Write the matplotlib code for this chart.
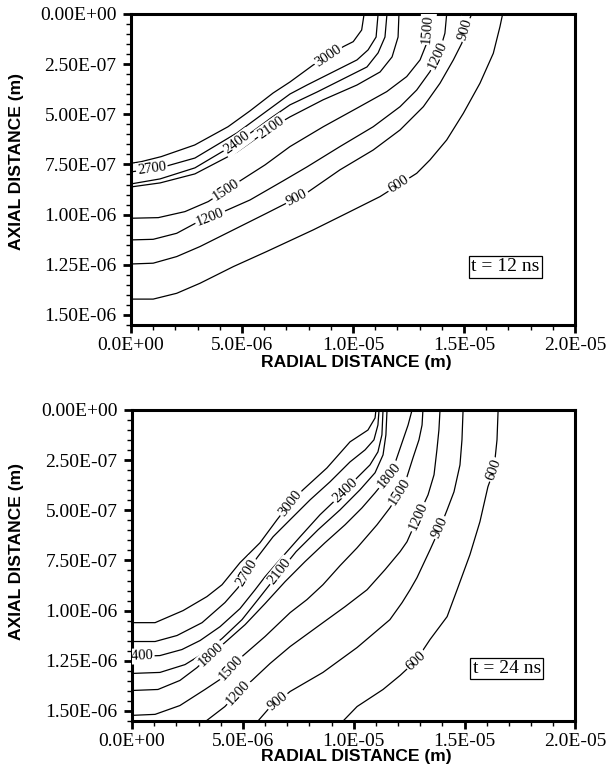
import numpy as np
import matplotlib
matplotlib.use('Agg')
import matplotlib.pyplot as plt
from matplotlib.ticker import FixedLocator, MultipleLocator

# isotherms, points are (radial um, axial um)
# ---- t = 12 ns ----
t12_3000 = [(0, 0.744), (0.46, 0.736), (1.36, 0.711), (2.87, 0.653), (4.37, 0.562), (5.36, 0.483),
            (6.40, 0.394), (7.16, 0.339), (8.21, 0.254), (8.87, 0.214), (9.56, 0.163), (10.01, 0.138),
            (10.39, 0.080), (10.50, 0.0)]
t12_2700 = [(0, 0.787), (1.31, 0.767), (2.88, 0.718), (4.77, 0.593), (6.31, 0.468), (7.16, 0.399),
            (7.93, 0.354), (9.10, 0.289), (10.18, 0.229), (10.68, 0.179), (11.04, 0.115), (11.13, 0.0)]
t12_2400 = [(0, 0.847), (1.31, 0.822), (2.88, 0.767), (4.77, 0.643), (6.31, 0.518), (7.16, 0.453),
            (8.38, 0.389), (9.73, 0.314), (10.63, 0.264), (11.13, 0.194), (11.44, 0.115), (11.53, 0.0)]
t12_2100 = [(0, 0.862), (1.31, 0.842), (2.88, 0.797), (4.77, 0.688), (6.31, 0.568), (7.16, 0.513),
            (8.65, 0.428), (10.18, 0.354), (11.22, 0.289), (11.76, 0.214), (12.03, 0.115), (12.07, 0.0)]
t12_1500 = [(0, 1.018), (1.23, 1.015), (2.43, 0.985), (3.48, 0.935), (4.28, 0.877), (4.91, 0.832),
            (6.04, 0.752), (7.16, 0.661), (8.66, 0.562), (10.17, 0.470), (11.52, 0.387), (12.42, 0.312),
            (13.02, 0.229), (13.32, 0.146), (13.42, 0.0)]
t12_1200 = [(0, 1.126), (1.00, 1.123), (2.06, 1.093), (3.02, 1.036), (4.01, 0.993), (5.36, 0.927),
            (6.85, 0.832), (7.93, 0.762), (9.41, 0.661), (10.91, 0.562), (12.12, 0.462), (12.87, 0.379),
            (13.47, 0.287), (13.92, 0.179), (14.14, 0.096), (14.22, 0.0)]
t12_900 = [(0, 1.246), (1.00, 1.242), (2.06, 1.209), (3.11, 1.159), (4.61, 1.076), (6.11, 0.993),
           (7.91, 0.892), (9.41, 0.777), (10.91, 0.678), (12.12, 0.578), (13.17, 0.462), (13.92, 0.345),
           (14.52, 0.229), (14.90, 0.146), (15.14, 0.055), (15.35, 0.0)]
t12_600 = [(0, 1.421), (1.00, 1.421), (2.06, 1.392), (3.11, 1.342), (4.61, 1.259), (6.11, 1.184),
           (8.21, 1.076), (9.72, 0.993), (11.22, 0.910), (12.87, 0.794), (13.47, 0.727), (14.22, 0.628),
           (14.97, 0.495), (15.72, 0.345), (16.32, 0.196), (16.62, 0.063), (16.74, 0.0)]

# ---- t = 24 ns ----
t24_3000 = [(0, 1.060), (1.04, 1.060), (2.30, 1.000), (3.38, 0.930), (4.06, 0.871), (4.87, 0.761),
            (5.77, 0.662), (6.54, 0.547), (7.13, 0.463), (7.71, 0.398), (8.79, 0.289), (9.83, 0.159),
            (10.64, 0.100), (10.96, 0.040), (11.00, 0.0)]
t24_2700 = [(0, 1.154), (1.04, 1.154), (2.03, 1.124), (3.16, 1.060), (4.19, 0.960), (4.78, 0.886),
            (5.19, 0.811), (5.64, 0.736), (6.36, 0.632), (7.13, 0.547), (8.03, 0.448), (8.93, 0.358),
            (9.83, 0.259), (10.51, 0.199), (10.91, 0.149), (11.09, 0.075), (11.14, 0.0)]
t24_2400 = [(0, 1.229), (1.26, 1.224), (2.25, 1.194), (3.07, 1.149), (3.97, 1.080), (4.87, 0.990),
            (5.55, 0.896), (6.00, 0.831), (6.67, 0.746), (7.58, 0.632), (8.48, 0.522), (9.61, 0.403),
            (10.15, 0.338), (10.73, 0.274), (11.09, 0.209), (11.27, 0.124), (11.32, 0.0)]
t24_2100 = [(0, 1.313), (1.26, 1.308), (2.39, 1.269), (3.20, 1.214), (4.06, 1.139), (4.96, 1.045),
            (5.68, 0.945), (6.67, 0.806), (7.40, 0.706), (8.39, 0.597), (9.38, 0.498), (10.28, 0.398),
            (10.96, 0.313), (11.32, 0.224), (11.45, 0.124), (11.50, 0.0)]
t24_1800 = [(0, 1.398), (1.17, 1.393), (2.16, 1.348), (2.93, 1.284), (3.56, 1.219), (4.19, 1.159),
            (5.10, 1.070), (6.00, 0.965), (6.90, 0.856), (7.80, 0.756), (8.70, 0.662), (9.61, 0.572),
            (10.37, 0.488), (10.96, 0.413), (11.59, 0.328), (11.91, 0.249), (12.22, 0.149),
            (12.45, 0.075), (12.63, 0.0)]
t24_1500 = [(0, 1.522), (1.04, 1.517), (2.16, 1.473), (3.29, 1.393), (3.97, 1.343), (4.46, 1.284),
            (5.01, 1.224), (6.00, 1.129), (7.13, 1.010), (7.89, 0.945), (8.61, 0.871), (9.38, 0.776),
            (10.15, 0.687), (11.05, 0.572), (11.63, 0.488), (12.09, 0.408), (12.40, 0.333),
            (12.67, 0.239), (12.94, 0.149), (13.08, 0.075), (13.12, 0.0)]
t24_1200 = [(3.34, 1.55), (4.19, 1.478), (4.78, 1.408), (5.41, 1.348), (6.22, 1.264), (7.13, 1.179),
            (8.61, 1.060), (9.61, 0.980), (10.60, 0.896), (11.41, 0.796), (12.09, 0.706), (12.40, 0.657),
            (12.90, 0.532), (13.35, 0.423), (13.62, 0.323), (13.75, 0.199), (13.84, 0.100), (13.89, 0.0)]
t24_900 = [(5.68, 1.55), (6.13, 1.493), (6.58, 1.453), (7.13, 1.403), (8.61, 1.308), (10.15, 1.184),
           (11.63, 1.045), (12.18, 0.960), (12.54, 0.896), (12.85, 0.836), (13.44, 0.697), (13.89, 0.587),
           (14.21, 0.498), (14.52, 0.408), (14.79, 0.274), (14.88, 0.149), (14.93, 0.0)]
t24_600 = [(9.52, 1.55), (10.15, 1.478), (11.32, 1.393), (12.09, 1.323), (12.81, 1.249), (13.44, 1.144),
           (14.21, 1.030), (14.66, 0.896), (15.24, 0.721), (15.69, 0.557), (16.05, 0.383), (16.32, 0.299),
           (16.46, 0.149), (16.51, 0.0)]

t12_levels = [3000, 2700, 2400, 2100, 1500, 1200, 900, 600]
t24_levels = [3000, 2700, 2400, 2100, 1800, 1500, 1200, 900, 600]

# where the inline labels sit: (level, radial um, axial um)
t12_label_spots = [(3000, 8.92, 0.214), (2700, 0.95, 0.780), (2400, 4.77, 0.638), (2100, 6.31, 0.568),
                   (1500, 4.28, 0.877), (1500, 13.40, 0.075), (1200, 3.60, 1.021), (1200, 13.83, 0.209),
                   (900, 7.48, 0.917), (900, 15.09, 0.080), (600, 12.16, 0.867)]
t24_label_spots = [(3000, 7.13, 0.463), (2700, 5.19, 0.811), (2400, 0.30, 1.229), (2400, 9.61, 0.403),
                   (2100, 6.67, 0.806), (1800, 3.56, 1.219), (1800, 11.59, 0.328), (1500, 4.46, 1.284),
                   (1500, 12.09, 0.408), (1200, 4.78, 1.408), (1200, 12.90, 0.532), (900, 6.58, 1.453),
                   (900, 13.89, 0.587), (600, 12.81, 1.249), (600, 16.32, 0.299)]

x_ticks = [0, 5e-6, 1e-5, 1.5e-5, 2e-5]
x_tick_labels = ['0.0E+00', '5.0E-06', '1.0E-05', '1.5E-05', '2.0E-05']
y_ticks = [0, 2.5e-7, 5e-7, 7.5e-7, 1e-6, 1.25e-6, 1.5e-6]
y_tick_labels = ['0.00E+00', '2.50E-07', '5.00E-07', '7.50E-07', '1.00E-06', '1.25E-06', '1.50E-06']

t12_lines = dict(zip(t12_levels, [t12_3000, t12_2700, t12_2400, t12_2100, t12_1500, t12_1200, t12_900, t12_600]))
t24_lines = dict(zip(t24_levels, [t24_3000, t24_2700, t24_2400, t24_2100, t24_1800, t24_1500,
                                  t24_1200, t24_900, t24_600]))

plt.rcParams['font.family'] = ['Liberation Serif', 'DejaVu Serif']
label_font = {'family': 'Liberation Sans', 'weight': 'bold', 'size': 12.6}

fig = plt.figure(figsize=(6.07, 7.76), dpi=100)
ax_top = fig.add_axes([0.2158, 0.5812, 0.7315, 0.4008])
ax_bot = fig.add_axes([0.2175, 0.0709, 0.7306, 0.4008])


def put_label(ax, pts, level, r0, z0):
    # snap the label onto the nearest segment and turn it along the line
    disp = ax.transData.transform(pts)
    p = ax.transData.transform((r0 * 1e-6, z0 * 1e-6))
    best = None
    for i in range(len(disp) - 1):
        a, b = disp[i], disp[i + 1]
        ab = b - a
        t = np.clip(np.dot(p - a, ab) / np.dot(ab, ab), 0, 1)
        q = a + t * ab
        d = np.hypot(*(p - q))
        if best is None or d < best[0]:
            best = (d, q, ab)
    _, q, ab = best
    ang = np.degrees(np.arctan2(ab[1], ab[0]))
    if ang > 90:
        ang -= 180
    if ang < -90:
        ang += 180
    xy = ax.transData.inverted().transform(q)
    ax.text(xy[0], xy[1], str(level), rotation=ang, rotation_mode='anchor',
            ha='center', va='center', fontsize=10.5, zorder=4, clip_on=True,
            bbox=dict(boxstyle='square,pad=0.1', fc='white', ec='none'))


def draw_panel(ax, lines, spots, tag, tag_pos):
    ax.set_xlim(0, 2e-5)
    ax.set_ylim(1.55e-6, 0)
    for level, pts in lines.items():
        arr = np.array(pts) * 1e-6
        ax.plot(arr[:, 0], arr[:, 1], color='black', lw=0.9, zorder=2)
    for level, r0, z0 in spots:
        put_label(ax, np.array(lines[level]) * 1e-6, level, r0, z0)

    ax.xaxis.set_major_locator(FixedLocator(x_ticks))
    ax.set_xticklabels(x_tick_labels)
    ax.yaxis.set_major_locator(FixedLocator(y_ticks))
    ax.set_yticklabels(y_tick_labels)
    ax.xaxis.set_minor_locator(MultipleLocator(1e-6))
    ax.yaxis.set_minor_locator(MultipleLocator(5e-8))
    ax.tick_params(which='major', direction='out', length=5.5, width=2, labelsize=14, pad=3)
    ax.tick_params(which='minor', direction='out', length=3.5, width=1)
    ax.tick_params(axis='y', which='major', pad=5)
    for s in ax.spines.values():
        s.set_linewidth(2.2)

    ax.text(tag_pos[0] * 1e-6, tag_pos[1] * 1e-6, tag, ha='center', va='center', fontsize=14,
            zorder=5, bbox=dict(boxstyle='square,pad=0.12', fc='white', ec='black', lw=0.9))


draw_panel(ax_top, t12_lines, t12_label_spots, 't = 12 ns', (16.85, 1.261))
draw_panel(ax_bot, t24_lines, t24_label_spots, 't = 24 ns', (16.90, 1.289))

fig.text(0.028, 0.7925, 'AXIAL DISTANCE (m)', rotation=90, ha='center', va='center', fontdict=label_font)
fig.text(0.028, 0.2887, 'AXIAL DISTANCE (m)', rotation=90, ha='center', va='center', fontdict=label_font)
fig.text(0.587, 1 - 362 / 776, 'RADIAL DISTANCE (m)', ha='center', va='center', fontdict=label_font)
fig.text(0.587, 1 - 757 / 776, 'RADIAL DISTANCE (m)', ha='center', va='center', fontdict=label_font)

fig.savefig('out.png', dpi=100)
